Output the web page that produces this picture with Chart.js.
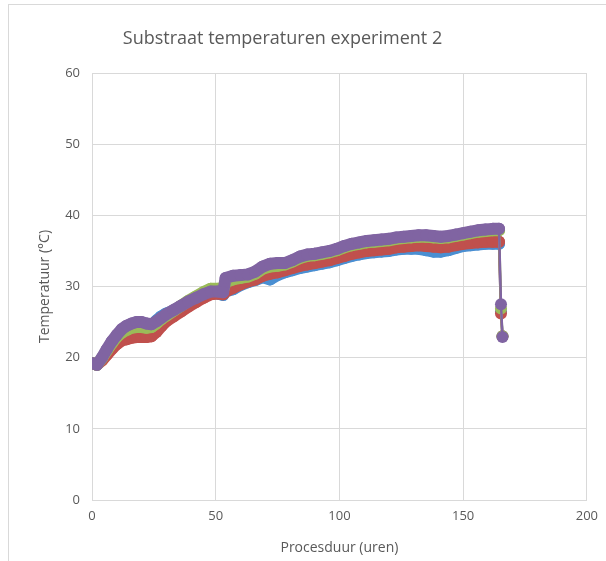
<!DOCTYPE html>
<html>
<head>
<meta charset="utf-8">
<script src="https://cdn.jsdelivr.net/npm/chart.js@4"></script>
<style>
  html, body { margin: 0; padding: 0; background: #fff; }
  #wrap { position: relative; width: 606px; height: 561px; overflow: hidden; }
  #frame { position: absolute; left: 8px; top: 4px; width: 700px; height: 700px; border: 1px solid #d9d9d9; }
  #titel { position: absolute; left: 0; width: 565px; top: 25px; text-align: center;
    font: 18px "Open Sans", "Noto Sans", sans-serif; color: #595959; }
  #c { position: absolute; left: 0; top: 0; }
</style>
</head>
<body>
<div id="wrap">
  <div id="frame"></div>
  <canvas id="c" width="606" height="561"></canvas>
  <div id="titel">Substraat temperaturen experiment 2</div>
</div>
<script>
// procesduur in uren
const uren = [0, 2, 4, 6, 8, 10, 12, 14, 16, 18, 20, 22, 24, 26, 28, 30,
  33, 36, 39, 42, 45, 48, 51, 53, 54,
  57, 60, 63, 66, 69, 72, 75, 78, 81, 84, 87, 90, 93, 96, 99, 102, 105, 108,
  111, 114, 117, 120, 123, 126, 129, 132, 135, 138, 141, 144, 147, 150, 153,
  156, 159, 162, 164.5, 165.3, 165.9];

const sensor1 = [19.2, 19.0, 19.8, 20.9, 21.9, 22.8, 23.5, 23.9, 24.2, 24.3, 24.3, 24.2, 24.5, 25.2, 25.8, 26.2,
  26.6, 27.1, 27.6, 28.1, 28.6, 29.0, 29.0, 28.8, 29.3,
  29.6, 30.2, 30.6, 30.9, 31.3, 31.0, 31.6, 32.0, 32.3, 32.6, 32.8, 33.0, 33.2, 33.4, 33.7, 34.0, 34.3, 34.5,
  34.7, 34.8, 34.9, 35.0, 35.2, 35.3, 35.3, 35.3, 35.1, 34.9, 34.9, 35.1, 35.4, 35.7, 35.8,
  35.9, 36.0, 36.0, 36.0, 26.5, 23.0];

const sensor2 = [19.2, 19.0, 19.6, 20.4, 21.2, 21.9, 22.4, 22.6, 22.8, 22.9, 22.9, 22.9, 23.0, 23.6, 24.4, 25.1,
  25.8, 26.5, 27.2, 27.8, 28.4, 28.9, 29.0, 28.9, 29.3,
  29.8, 30.3, 30.7, 31.0, 31.5, 31.8, 32.0, 32.3, 32.6, 32.9, 33.1, 33.3, 33.5, 33.7, 34.0, 34.3, 34.6, 34.8,
  35.0, 35.1, 35.2, 35.3, 35.5, 35.6, 35.7, 35.8, 35.7, 35.6, 35.5, 35.6, 35.8, 36.0, 36.1,
  36.2, 36.3, 36.3, 36.3, 26.2, 23.0];

const sensor3 = [19.2, 19.0, 19.9, 21.0, 22.0, 22.9, 23.5, 23.9, 24.2, 24.3, 24.3, 24.2, 24.3, 24.8, 25.4, 25.9,
  26.6, 27.3, 28.0, 28.6, 29.2, 29.7, 29.7, 29.5, 30.6,
  31.0, 31.2, 31.4, 31.8, 32.5, 32.8, 32.9, 33.1, 33.5, 34.0, 34.3, 34.4, 34.6, 34.8, 35.1, 35.5, 35.8, 36.0,
  36.2, 36.3, 36.4, 36.5, 36.7, 36.8, 36.9, 37.0, 37.0, 36.9, 36.8, 36.9, 37.1, 37.3, 37.5,
  37.7, 37.8, 37.9, 37.9, 26.9, 23.0];

const sensor4 = [19.2, 19.0, 20.0, 21.2, 22.3, 23.2, 24.0, 24.5, 24.8, 25.0, 25.0, 24.8, 24.7, 25.1, 25.6, 26.1,
  26.7, 27.3, 27.9, 28.4, 28.9, 29.3, 29.3, 29.2, 31.2,
  31.5, 31.6, 31.7, 32.1, 32.8, 33.2, 33.3, 33.3, 33.7, 34.2, 34.5, 34.6, 34.8, 35.0, 35.3, 35.7, 36.0, 36.2,
  36.4, 36.5, 36.6, 36.7, 36.9, 37.0, 37.1, 37.2, 37.2, 37.1, 37.0, 37.1, 37.3, 37.5, 37.7,
  37.9, 38.0, 38.1, 38.1, 27.5, 22.9];

const kleuren = ['#4a8fd2', '#c0504d', '#9bbb59', '#8064a2'];
const reeksen = [sensor1, sensor2, sensor3, sensor4];

const tekst = '#595959';
const fam = '"Open Sans", "Noto Sans", sans-serif';

// dicht opeengepakte markers vormen in het origineel een dikke band; alleen de val aan het eind is een dunne lijn
const dikte = ctx => Math.abs(ctx.p1.parsed.y - ctx.p0.parsed.y) > 3 ? 2.5 : 12;

const datasets = reeksen.map((r, i) => ({
  data: r.map((v, j) => ({ x: uren[j], y: v })),
  showLine: true,
  borderColor: kleuren[i],
  backgroundColor: kleuren[i],
  borderWidth: 2.5,
  borderCapStyle: 'round',
  borderJoinStyle: 'round',
  segment: { borderWidth: dikte },
  pointRadius: 6,
  pointBorderWidth: 0,
  pointHoverRadius: 6,
  order: 4 - i
}));

new Chart(document.getElementById('c'), {
  type: 'scatter',
  data: { datasets },
  options: {
    responsive: false,
    animation: false,
    layout: { padding: { left: 20, right: 17, top: 73, bottom: 0 } },
    plugins: {
      legend: { display: false },
      tooltip: { enabled: false },
      title: { display: false }
    },
    scales: {
      x: {
        type: 'linear',
        min: 0, max: 200,
        afterFit: s => { s.height = 61; },
        ticks: { stepSize: 50, color: tekst, padding: 8, font: { family: fam, size: 13 } },
        grid: { color: '#d9d9d9', drawTicks: false },
        border: { color: '#d9d9d9' },
        title: {
          display: true, text: 'Procesduur (uren)', color: tekst,
          font: { family: fam, size: 14 }, padding: { top: 0, bottom: 4.6 }
        }
      },
      y: {
        min: 0, max: 60,
        afterFit: s => { s.width = 72; },
        ticks: { stepSize: 10, color: tekst, padding: 12, font: { family: fam, size: 13 } },
        grid: { color: '#d9d9d9', drawTicks: false },
        border: { color: '#d9d9d9' },
        title: {
          display: true, text: 'Temperatuur (°C)', color: tekst,
          font: { family: fam, size: 14 }, padding: { top: 16.6, bottom: 0 }
        }
      }
    }
  }
});
</script>
</body>
</html>
